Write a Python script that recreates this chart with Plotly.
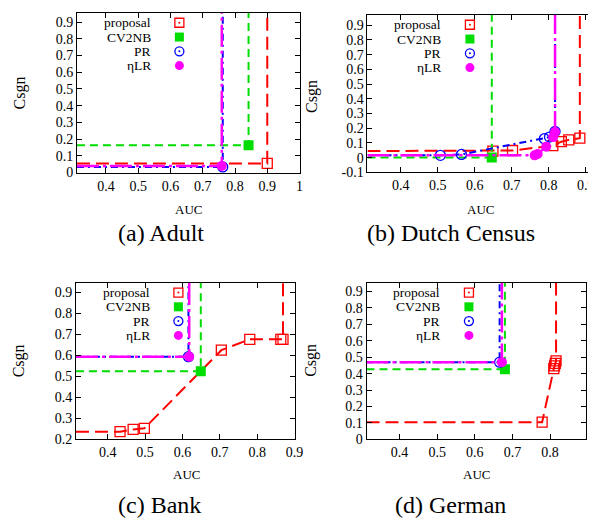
import plotly.graph_objects as go

W, H = 596, 520
FONT = "Liberation Serif"

captions = ["(a) Adult", "(b) Dutch Census", "(c) Bank", "(d) German"]
series_names = ["proposal", "CV2NB", "PR", "ηLR"]

# ---------------- data (AUC, Csgn) ----------------
# (a) Adult
adult_proposal_auc = [0.900]
adult_proposal_csgn = [0.055]
adult_cv2nb_auc = [0.842]
adult_cv2nb_csgn = [0.163]
adult_pr_auc = [0.762]
adult_pr_csgn = [0.034]
adult_etalr_auc = [0.759]
adult_etalr_csgn = [0.040]

# (b) Dutch Census
dutch_proposal_auc = [0.649, 0.702, 0.811, 0.834, 0.854, 0.884]
dutch_proposal_csgn = [0.045, 0.049, 0.082, 0.109, 0.121, 0.133]
dutch_cv2nb_auc = [0.646]
dutch_cv2nb_csgn = [0.002]
dutch_pr_auc = [0.507, 0.564, 0.788, 0.802, 0.817]
dutch_pr_csgn = [0.016, 0.022, 0.129, 0.140, 0.178]
dutch_etalr_auc = [0.762, 0.770, 0.793, 0.812, 0.817]
dutch_etalr_csgn = [0.016, 0.025, 0.075, 0.140, 0.175]

# (c) Bank
bank_proposal_auc = [0.433, 0.468, 0.498, 0.704, 0.780, 0.863, 0.869]
bank_proposal_csgn = [0.236, 0.247, 0.252, 0.625, 0.677, 0.677, 0.677]
bank_cv2nb_auc = [0.649]
bank_cv2nb_csgn = [0.524]
bank_pr_auc = [0.616]
bank_pr_csgn = [0.594]
bank_etalr_auc = [0.618]
bank_etalr_csgn = [0.594]

# (d) German
german_proposal_auc = [0.779, 0.810, 0.812, 0.814, 0.816]
german_proposal_csgn = [0.104, 0.430, 0.447, 0.462, 0.478]
german_cv2nb_auc = [0.680]
german_cv2nb_csgn = [0.426]
german_pr_auc = [0.666]
german_pr_csgn = [0.470]
german_etalr_auc = [0.672]
german_etalr_csgn = [0.470]

# tick labels
x_ticks_a = [0.4, 0.5, 0.6, 0.7, 0.8, 0.9, 1.0]
x_ticks = [0.4, 0.5, 0.6, 0.7, 0.8, 0.9]
y_ticks_a = [0, 0.1, 0.2, 0.3, 0.4, 0.5, 0.6, 0.7, 0.8, 0.9]
y_ticks_b = [-0.1, 0, 0.1, 0.2, 0.3, 0.4, 0.5, 0.6, 0.7, 0.8, 0.9]
y_ticks_c = [0.2, 0.3, 0.4, 0.5, 0.6, 0.7, 0.8, 0.9]
y_ticks_d = [0, 0.1, 0.2, 0.3, 0.4, 0.5, 0.6, 0.7, 0.8, 0.9]

panel_data = [
    [(adult_proposal_auc, adult_proposal_csgn), (adult_cv2nb_auc, adult_cv2nb_csgn),
     (adult_pr_auc, adult_pr_csgn), (adult_etalr_auc, adult_etalr_csgn)],
    [(dutch_proposal_auc, dutch_proposal_csgn), (dutch_cv2nb_auc, dutch_cv2nb_csgn),
     (dutch_pr_auc, dutch_pr_csgn), (dutch_etalr_auc, dutch_etalr_csgn)],
    [(bank_proposal_auc, bank_proposal_csgn), (bank_cv2nb_auc, bank_cv2nb_csgn),
     (bank_pr_auc, bank_pr_csgn), (bank_etalr_auc, bank_etalr_csgn)],
    [(german_proposal_auc, german_proposal_csgn), (german_cv2nb_auc, german_cv2nb_csgn),
     (german_pr_auc, german_pr_csgn), (german_etalr_auc, german_etalr_csgn)],
]

# ---------------- layout / style ----------------
# frame in pixels: left, top, right, bottom
frames = [(70, 5, 296, 168), (365, 7, 596, 167), (69, 279, 291, 438), (364, 279, 587, 438)]
x_ranges = [[0.31, 1.0], [0.31, 0.925], [0.315, 0.9], [0.312, 0.896]]
y_ranges = [[-0.005, 0.955], [-0.1, 0.97], [0.2, 0.947], [0.0, 0.954]]
x_tick_sets = [x_ticks_a, x_ticks, x_ticks, x_ticks]
y_tick_sets = [y_ticks_a, y_ticks_b, y_ticks_c, y_ticks_d]
caption_pos = [(155, 229), (450, 229), (154, 505), (449, 505)]
auc_pos = [(183, 205), (480, 205), (181, 474), (476, 474)]
csgn_pos = [(12, 86), (308, 90), (12, 358), (308, 358)]

RED, GREEN, BLUE, MAG = "#ff0000", "#00dd00", "#0000ff", "#ff00ff"
styles = [
    dict(color=RED, dash="13px,6px", width=2, symbol="square-open", msize=10, mline=1.3),
    dict(color=GREEN, dash="8px,5px", width=2, symbol="square", msize=10, mline=0),
    dict(color=BLUE, dash="7px,4px,2px,4px", width=2, symbol="circle-open", msize=10, mline=1.3),
    dict(color=MAG, dash="22px,4px,3px,4px", width=2.5, symbol="circle", msize=10, mline=0),
]


def px(xp):
    return xp / W


def py(yp):
    return 1 - yp / H


fig = go.Figure()
layout = dict(
    width=W, height=H, margin=dict(l=0, r=0, t=0, b=0),
    paper_bgcolor="white", plot_bgcolor="white", showlegend=False,
    font=dict(family=FONT, color="black", size=14),
)
annotations = []
shapes = []

for i in range(4):
    xa = "x" if i == 0 else f"x{i + 1}"
    ya = "y" if i == 0 else f"y{i + 1}"
    l, t, r, b = frames[i]
    axis_common = dict(
        showgrid=False, zeroline=False, showline=True, mirror="allticks",
        linecolor="black", linewidth=1, ticks="inside", ticklen=5,
        tickcolor="black", tickwidth=1,
        tickfont=dict(family=FONT, size=14, color="black"),
    )
    layout["xaxis" if i == 0 else f"xaxis{i + 1}"] = dict(
        domain=[px(l), px(r)], range=x_ranges[i], anchor=ya,
        tickvals=x_tick_sets[i], ticktext=[f"{v:g}" for v in x_tick_sets[i]],
        **axis_common)
    layout["yaxis" if i == 0 else f"yaxis{i + 1}"] = dict(
        domain=[py(b), py(t)], range=y_ranges[i], anchor=xa,
        tickvals=y_tick_sets[i], ticktext=[f"{v:g}" for v in y_tick_sets[i]],
        **axis_common)

    for s, (xs, ys) in enumerate(panel_data[i]):
        st = styles[s]
        # frontier: horizontal from left edge, through points, vertical to top edge
        line_x = [x_ranges[i][0]] + list(xs) + [xs[-1]]
        line_y = [ys[0]] + list(ys) + [y_ranges[i][1]]
        fig.add_trace(go.Scatter(
            x=line_x, y=line_y, xaxis=xa, yaxis=ya, mode="lines",
            line=dict(color=st["color"], dash=st["dash"], width=st["width"]),
            hoverinfo="skip"))
        fig.add_trace(go.Scatter(
            x=xs, y=ys, xaxis=xa, yaxis=ya, mode="markers", name=series_names[s],
            marker=dict(symbol=st["symbol"], size=st["msize"], color=st["color"],
                        line=dict(color=st["color"], width=st["mline"]))))

    # manual key: text then symbol
    row_dy = [10, 24.5, 39, 53.5]
    for s, name in enumerate(series_names):
        ty = t + row_dy[s]
        annotations.append(dict(
            x=px(l + 76), y=py(ty), xref="paper", yref="paper", text=name,
            showarrow=False, xanchor="right", yanchor="middle", borderpad=0,
            font=dict(family=FONT, size=13.5, color="black")))
        cx, cy = px(l + 104), py(ty)
        st = styles[s]
        kind = "rect" if s < 2 else "circle"
        filled = s in (1, 3)
        shapes.append(dict(
            type=kind, xref="paper", yref="paper", xsizemode="pixel", ysizemode="pixel",
            xanchor=cx, yanchor=cy, x0=-4.5, x1=4.5, y0=-4.5, y1=4.5,
            line=dict(color=st["color"], width=0 if filled else 1.3),
            fillcolor=st["color"] if filled else "rgba(0,0,0,0)"))
        if not filled:
            shapes.append(dict(
                type="circle", xref="paper", yref="paper", xsizemode="pixel",
                ysizemode="pixel", xanchor=cx, yanchor=cy, x0=-1, x1=1, y0=-1, y1=1,
                line=dict(color=st["color"], width=0), fillcolor=st["color"]))

    # axis titles and caption
    annotations.append(dict(
        x=px(auc_pos[i][0]), y=py(auc_pos[i][1]), xref="paper", yref="paper",
        text="AUC", showarrow=False, xanchor="center", yanchor="middle",
        font=dict(family=FONT, size=13, color="black")))
    annotations.append(dict(
        x=px(csgn_pos[i][0]), y=py(csgn_pos[i][1]), xref="paper", yref="paper",
        text="Csgn", showarrow=False, textangle=-90, xanchor="center", yanchor="middle",
        font=dict(family=FONT, size=16, color="black")))
    annotations.append(dict(
        x=px(caption_pos[i][0]), y=py(caption_pos[i][1]), xref="paper", yref="paper",
        text=captions[i], showarrow=False, xanchor="center", yanchor="middle",
        borderpad=0, font=dict(family=FONT, size=24, color="black")))

layout["annotations"] = annotations
layout["shapes"] = shapes
fig.update_layout(**layout)
fig.write_html("out.html")
